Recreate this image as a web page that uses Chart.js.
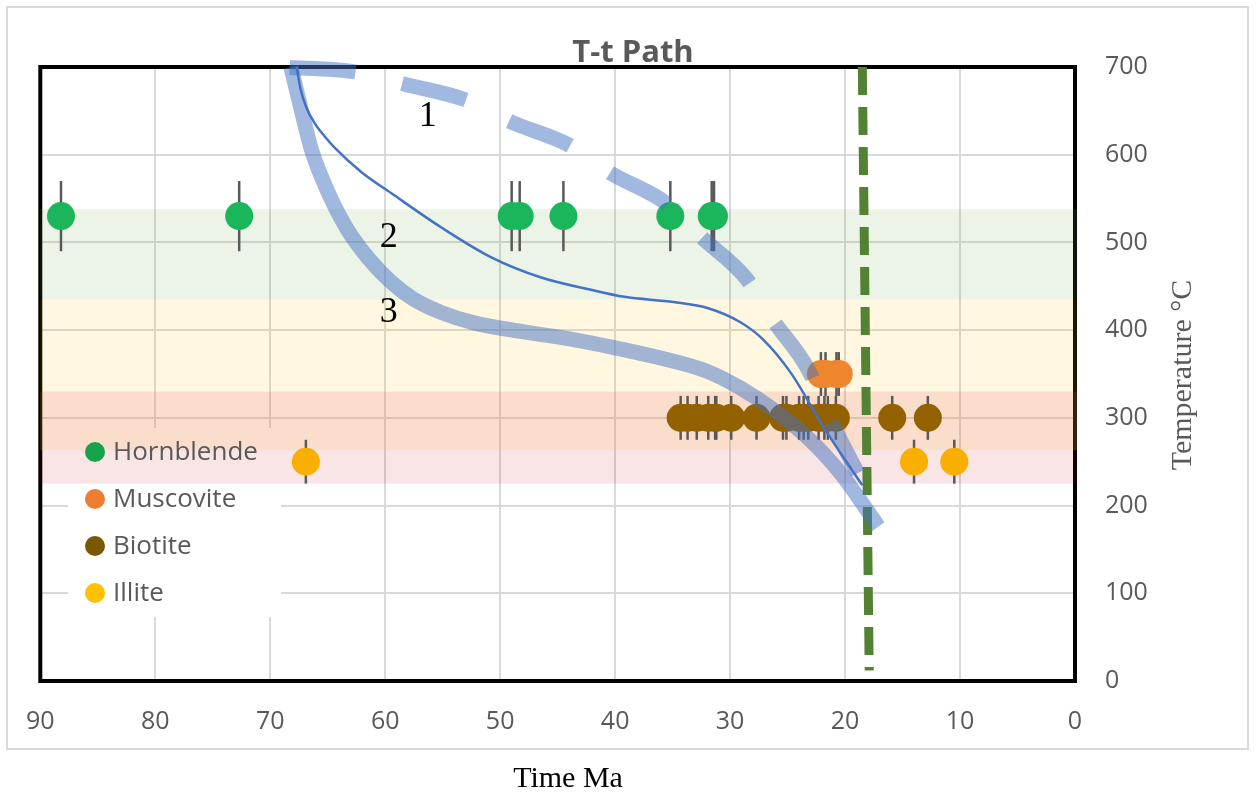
<!DOCTYPE html>
<html>
<head>
<meta charset="utf-8">
<script src="https://cdn.jsdelivr.net/npm/chart.js@4"></script>
<style>
  body { margin: 0; background: #fff; }
  #wrap { width: 1260px; height: 797px; position: relative; }
</style>
</head>
<body>
<div id="wrap"><canvas id="ttChart"></canvas></div>
<script>
    // mineral ages (Ma) and closure temperatures (C)
    var hornblendeTime = [88.2, 72.7, 49.0, 48.3, 44.5, 35.2, 31.6, 31.4];
    var hornblendeTemp = [530, 530, 530, 530, 530, 530, 530, 530];
    var hornblendeErr = 40;

    var muscoviteTime = [22.1, 21.7, 20.75, 20.55];
    var muscoviteTemp = [350, 350, 350, 350];
    var muscoviteErr = 25;

    var biotiteTime = [34.3, 33.7, 32.9, 31.9, 31.3, 31.2, 29.9, 27.7, 25.4, 25.1, 24.0, 23.6, 23.2, 22.3, 21.8, 21.5, 20.8, 15.9, 12.8];
    var biotiteTemp = [300, 300, 300, 300, 300, 300, 300, 300, 300, 300, 300, 300, 300, 300, 300, 300, 300, 300, 300];
    var biotiteErr = 25;

    var illiteTime = [66.9, 14.0, 10.5];
    var illiteTemp = [250, 250, 250];
    var illiteErr = 25;

    // cooling paths
    var path1Time = [69.0, 62.4, 58.2, 52.9, 49.0, 44.0, 40.4, 35.6, 32.5, 28.6, 26.3, 23.2, 21.4, 18.9];
    var path1Temp = [700, 694, 680, 662, 637, 611, 579, 545, 506, 459, 412, 355, 301, 237];

    var path2Time = [67.7, 67.35, 66.83, 66.14, 65.27, 64.4, 62.06, 59.46, 55.11, 50.77, 46.43, 42.1, 39.2, 34.9, 31.9, 29.1, 27.1, 24.7, 21.9, 18.5];
    var path2Temp = [700, 674, 653, 636, 621, 608, 580, 556, 517, 483, 460, 446, 438, 432, 425, 409, 389, 351, 290, 223];

    var path3Time = [68.2, 67.3, 66.4, 65.0, 63.3, 61.4, 59.5, 57.5, 55.1, 52.2, 47.9, 43.5, 40.4, 36.3, 32.0, 29.1, 26.2, 23.3, 20.4, 17.1];
    var path3Temp = [700, 651, 605, 558, 515, 481, 455, 435, 420, 408, 398, 389, 381, 369, 353, 334, 309, 278, 237, 176];

    var markerTime = [18.5, 17.9];
    var markerTemp = [700, 12];

    // closure temperature bands [top, bottom]
    var bandTops = [538, 435, 330, 263];
    var bandBottoms = [435, 330, 263, 225];
    var bandColors = ['rgba(112,173,71,0.13)', 'rgba(255,192,0,0.12)', 'rgba(237,125,49,0.25)', 'rgba(192,0,0,0.10)'];

    var xTicks = [90, 80, 70, 60, 50, 40, 30, 20, 10, 0];
    var yTicks = [0, 100, 200, 300, 400, 500, 600, 700];

    function pts(xs, ys) {
        return xs.map(function(x, i) { return {x: x, y: ys[i]}; });
    }

    var sansFont = '"Open Sans", sans-serif';
    var serifFont = '"Liberation Serif", "Times New Roman", serif';

    var framePlugin = {
        id: 'frame',
        beforeDraw: function(chart) {
            var c = chart.ctx;
            c.save();
            c.fillStyle = '#fff';
            c.fillRect(0, 0, chart.width, chart.height);
            c.strokeStyle = '#d9d9d9';
            c.lineWidth = 2;
            c.strokeRect(7, 7, 1241, 742);
            c.restore();
        },
        beforeDatasetsDraw: function(chart) {
            var c = chart.ctx, a = chart.chartArea;
            var xs = chart.scales.x, ys = chart.scales.y;
            c.save();
            // plot border
            c.strokeStyle = '#000';
            c.lineWidth = 4;
            c.strokeRect(a.left, a.top, a.right - a.left, a.bottom - a.top);
            // legend background
            c.fillStyle = '#fff';
            c.fillRect(68, 428, 213, 189);
            // bands
            for (var i = 0; i < bandTops.length; i++) {
                var t = ys.getPixelForValue(bandTops[i]);
                var b = ys.getPixelForValue(bandBottoms[i]);
                c.fillStyle = bandColors[i];
                c.fillRect(a.left, t, a.right - a.left + 2, b - t);
            }
            // legend entries
            c.font = '26px ' + sansFont;
            c.textBaseline = 'middle';
            var legendColors = ['#16A34A', '#ED7D31', '#7A5700', '#FFC000'];
            chart.data.datasets.filter(function(d) { return d.isMineral; }).forEach(function(d, k) {
                var yy = 452 + k * 47;
                c.fillStyle = legendColors[k];
                c.beginPath();
                c.arc(95, yy, 10, 0, Math.PI * 2);
                c.fill();
                c.fillStyle = '#595959';
                c.fillText(d.label, 113, yy + 1);
            });
            // error bars
            c.strokeStyle = '#595959';
            c.lineWidth = 2.5;
            chart.data.datasets.forEach(function(d) {
                if (!d.isMineral) return;
                d.data.forEach(function(p) {
                    var px = xs.getPixelForValue(p.x);
                    c.beginPath();
                    c.moveTo(px, ys.getPixelForValue(p.y + d.err));
                    c.lineTo(px, ys.getPixelForValue(p.y - d.err));
                    c.stroke();
                });
            });
            c.restore();
        },
        afterDraw: function(chart) {
            var c = chart.ctx;
            var xs = chart.scales.x, ys = chart.scales.y;
            c.save();
            c.fillStyle = '#595959';
            c.textAlign = 'center';
            c.textBaseline = 'alphabetic';
            c.font = 'bold 31px ' + sansFont;
            c.fillText('T-t Path', 633, 62);
            // path numbers
            c.fillStyle = '#000';
            c.textBaseline = 'middle';
            c.font = '36px ' + serifFont;
            [['1', 56.3, 644], ['2', 59.7, 505], ['3', 59.7, 420]].forEach(function(l) {
                c.fillText(l[0], xs.getPixelForValue(l[1]), ys.getPixelForValue(l[2]));
            });
            // axis titles
            c.font = '30px ' + serifFont;
            c.fillText('Time Ma', 568, 779);
            c.fillStyle = '#595959';
            c.translate(1183, 375);
            c.rotate(-Math.PI / 2);
            c.fillText('Temperature \u00B0C', 0, 0);
            c.restore();
        }
    };

    var ctx = document.getElementById('ttChart').getContext('2d');
    var ttChart = new Chart(ctx, {
        type: 'scatter',
        data: {
            datasets: [
                {
                    label: 'Path 1',
                    data: pts(path1Time, path1Temp),
                    showLine: true,
                    borderColor: 'rgba(68,114,196,0.5)',
                    borderWidth: 15,
                    borderDash: [66, 48],
                    borderDashOffset: 106,
                    cubicInterpolationMode: 'monotone',
                    pointRadius: 0,
                    clip: false,
                    order: 1
                },
                {
                    label: 'Path 2',
                    data: pts(path2Time, path2Temp),
                    showLine: true,
                    borderColor: '#4472C4',
                    borderWidth: 2.5,
                    cubicInterpolationMode: 'monotone',
                    pointRadius: 0,
                    clip: false,
                    order: 0
                },
                {
                    label: 'Path 3',
                    data: pts(path3Time, path3Temp),
                    showLine: true,
                    borderColor: 'rgba(68,114,196,0.5)',
                    borderWidth: 15,
                    cubicInterpolationMode: 'monotone',
                    pointRadius: 0,
                    clip: false,
                    order: 2
                },
                {
                    label: 'Marker',
                    data: pts(markerTime, markerTemp),
                    showLine: true,
                    borderColor: '#548235',
                    borderWidth: 9,
                    borderDash: [28, 12],
                    pointRadius: 0,
                    clip: false,
                    order: 3
                },
                {
                    label: 'Hornblende',
                    isMineral: true,
                    err: hornblendeErr,
                    data: pts(hornblendeTime, hornblendeTemp),
                    backgroundColor: '#1BB55C',
                    pointRadius: 14,
                    pointHoverRadius: 14,
                    borderWidth: 0,
                    order: 10
                },
                {
                    label: 'Muscovite',
                    isMineral: true,
                    err: muscoviteErr,
                    data: pts(muscoviteTime, muscoviteTemp),
                    backgroundColor: '#EE862E',
                    pointRadius: 14,
                    pointHoverRadius: 14,
                    borderWidth: 0,
                    order: 11
                },
                {
                    label: 'Biotite',
                    isMineral: true,
                    err: biotiteErr,
                    data: pts(biotiteTime, biotiteTemp),
                    backgroundColor: '#936100',
                    pointRadius: 14,
                    pointHoverRadius: 14,
                    borderWidth: 0,
                    order: 12
                },
                {
                    label: 'Illite',
                    isMineral: true,
                    err: illiteErr,
                    data: pts(illiteTime, illiteTemp),
                    backgroundColor: '#F9AF00',
                    pointRadius: 14,
                    pointHoverRadius: 14,
                    borderWidth: 0,
                    order: 13
                }
            ]
        },
        options: {
            responsive: true,
            maintainAspectRatio: false,
            animation: false,
            events: [],
            layout: {
                padding: { left: 38, top: 67, right: 0, bottom: 0 }
            },
            plugins: {
                legend: { display: false },
                title: { display: false },
                tooltip: { enabled: false }
            },
            scales: {
                x: {
                    type: 'linear',
                    min: 0,
                    max: 90,
                    reverse: true,
                    afterFit: function(scale) { scale.height = 116; },
                    afterBuildTicks: function(scale) {
                        scale.ticks = xTicks.map(function(v) { return {value: v}; });
                    },
                    grid: { color: '#d9d9d9', lineWidth: 2, drawTicks: false },
                    border: { display: false },
                    ticks: {
                        padding: 26,
                        color: '#595959',
                        font: { family: sansFont, size: 25 },
                        maxRotation: 0
                    }
                },
                y: {
                    type: 'linear',
                    position: 'right',
                    min: 0,
                    max: 700,
                    afterFit: function(scale) { scale.width = 185; },
                    afterBuildTicks: function(scale) {
                        scale.ticks = yTicks.map(function(v) { return {value: v}; });
                    },
                    grid: { color: '#d9d9d9', lineWidth: 2, drawTicks: false },
                    border: { display: false },
                    ticks: {
                        padding: 30,
                        color: '#595959',
                        font: { family: sansFont, size: 25 }
                    }
                }
            }
        },
        plugins: [framePlugin]
    });
</script>
</body>
</html>
